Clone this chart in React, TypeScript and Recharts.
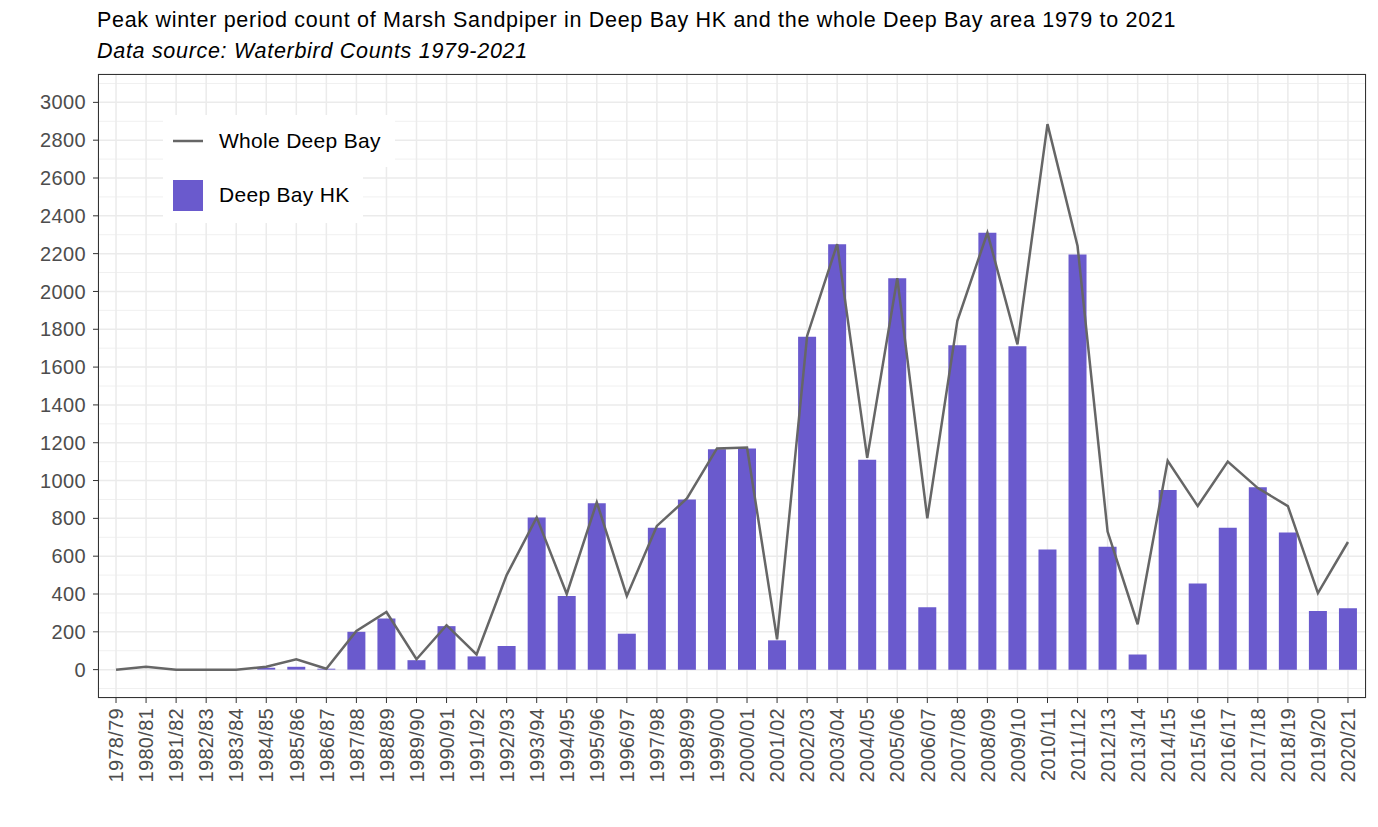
import React from "react";
import {
    ComposedChart, Bar, Line, XAxis, YAxis, CartesianGrid,
} from "recharts";

const seasons = [
    "1978/79", "1980/81", "1981/82", "1982/83", "1983/84", "1984/85", "1985/86",
    "1986/87", "1987/88", "1988/89", "1989/90", "1990/91", "1991/92", "1992/93",
    "1993/94", "1994/95", "1995/96", "1996/97", "1997/98", "1998/99", "1999/00",
    "2000/01", "2001/02", "2002/03", "2003/04", "2004/05", "2005/06", "2006/07",
    "2007/08", "2008/09", "2009/10", "2010/11", "2011/12", "2012/13", "2013/14",
    "2014/15", "2015/16", "2016/17", "2017/18", "2018/19", "2019/20", "2020/21",
];

const deepBayHK = [
    0, 0, 0, 0, 0, 10, 15, 5, 200, 270, 50, 230, 70, 125,
    805, 390, 880, 190, 750, 900, 1165, 1170, 155, 1760, 2250, 1110,
    2070, 330, 1715, 2310, 1710, 635, 2195, 650, 80, 950, 455, 750,
    965, 725, 310, 325,
];

const wholeDeepBay = [
    0, 15, 0, 0, 0, 15, 55, 5, 205, 305, 55, 235, 80, 500,
    805, 400, 885, 390, 760, 905, 1170, 1175, 160, 1765, 2250, 1120,
    2070, 800, 1845, 2310, 1720, 2885, 2240, 730, 240, 1105, 865, 1100,
    960, 865, 405, 675,
];

const yTicks = [
    0, 200, 400, 600, 800, 1000, 1200, 1400, 1600, 1800, 2000,
    2200, 2400, 2600, 2800, 3000,
];
// minor grid halfway between the major ticks, plus one below and above
const yMinor = [...yTicks.map((t) => t - 100), 3100];

const data = seasons.map((s, i) => ({
    season: s,
    hk: deepBayHK[i],
    whole: wholeDeepBay[i],
}));

const FONT = '"Liberation Sans", Arial, sans-serif';
const BAR_COLOR = "#6a5acd";
const LINE_COLOR = "#666666";

function SeasonTick({ x, y, payload }: { x?: number; y?: number; payload?: { value: string } }) {
    return (
        <text
            transform={`translate(${x},${y}) rotate(-90)`}
            textAnchor="end"
            dy="0.36em"
            fill="#4d4d4d"
            fontSize={20}
            letterSpacing={0.3}
            fontFamily={FONT}
        >
            {payload?.value}
        </text>
    );
}

function LegendBox() {
    const row = { display: "flex", alignItems: "center", background: "#fff", paddingLeft: 10 } as const;
    return (
        <div
            style={{
                position: "absolute", left: 163, top: 115,
                fontFamily: FONT, fontSize: 21, letterSpacing: 0.3, color: "#000",
            }}
        >
            <div style={{ ...row, width: 222, height: 52 }}>
                <svg width={30} height={30} style={{ marginRight: 16 }}>
                    <line x1={0} y1={15} x2={30} y2={15} stroke={LINE_COLOR} strokeWidth={2.5} />
                </svg>
                <span>Whole Deep Bay</span>
            </div>
            <div style={{ ...row, width: 190, height: 56 }}>
                <svg width={30} height={31} style={{ marginRight: 16 }}>
                    <rect x={0} y={0} width={30} height={31} fill={BAR_COLOR} />
                </svg>
                <span>Deep Bay HK</span>
            </div>
        </div>
    );
}

export default function App() {
    const titleStyle = {
        position: "absolute", left: 97, fontFamily: FONT, fontSize: 21.5,
        letterSpacing: 0.7, lineHeight: "20px", whiteSpace: "nowrap",
    } as const;
    return (
        <div style={{ position: "absolute", top: 0, left: 0, width: 1378, height: 827, background: "#fff" }}>
            <div style={{ ...titleStyle, top: 10 }}>
                Peak winter period count of Marsh Sandpiper in Deep Bay HK and the whole Deep Bay area 1979 to 2021
            </div>
            <div style={{ ...titleStyle, top: 41, fontStyle: "italic" }}>
                Data source: Waterbird Counts 1979-2021
            </div>

            <ComposedChart
                width={1378}
                height={827}
                data={data}
                margin={{ top: 74, right: 12, bottom: 29, left: 0 }}
                style={{ position: "absolute", top: 0, left: 0 }}
            >
                <CartesianGrid
                    horizontalValues={yMinor}
                    vertical={false}
                    stroke="#f0f0f0"
                    strokeWidth={1}
                />
                <CartesianGrid stroke="#ebebeb" strokeWidth={1.5} />
                <XAxis
                    dataKey="season"
                    interval={0}
                    padding={{ left: 3, right: 3 }}
                    height={100}
                    axisLine={false}
                    tickLine={{ stroke: "#333333" }}
                    tickSize={5}
                    tickMargin={5}
                    tick={<SeasonTick />}
                />
                <YAxis
                    domain={[-150, 3150]}
                    ticks={yTicks}
                    width={98}
                    axisLine={false}
                    tickLine={{ stroke: "#333333" }}
                    tickSize={5}
                    tickMargin={7}
                    tick={{ fill: "#4d4d4d", fontSize: 20, fontFamily: FONT, letterSpacing: 0.4 }}
                />
                <Bar dataKey="hk" name="Deep Bay HK" fill={BAR_COLOR} barSize={18} isAnimationActive={false} />
                <Line
                    type="linear"
                    dataKey="whole"
                    name="Whole Deep Bay"
                    stroke={LINE_COLOR}
                    strokeWidth={2.5}
                    dot={false}
                    activeDot={false}
                    isAnimationActive={false}
                />
            </ComposedChart>

            <LegendBox />

            <div
                style={{
                    position: "absolute", left: 98, top: 74, width: 1268, height: 624,
                    border: "1px solid #333333", boxSizing: "border-box", pointerEvents: "none",
                }}
            />
        </div>
    );
}
